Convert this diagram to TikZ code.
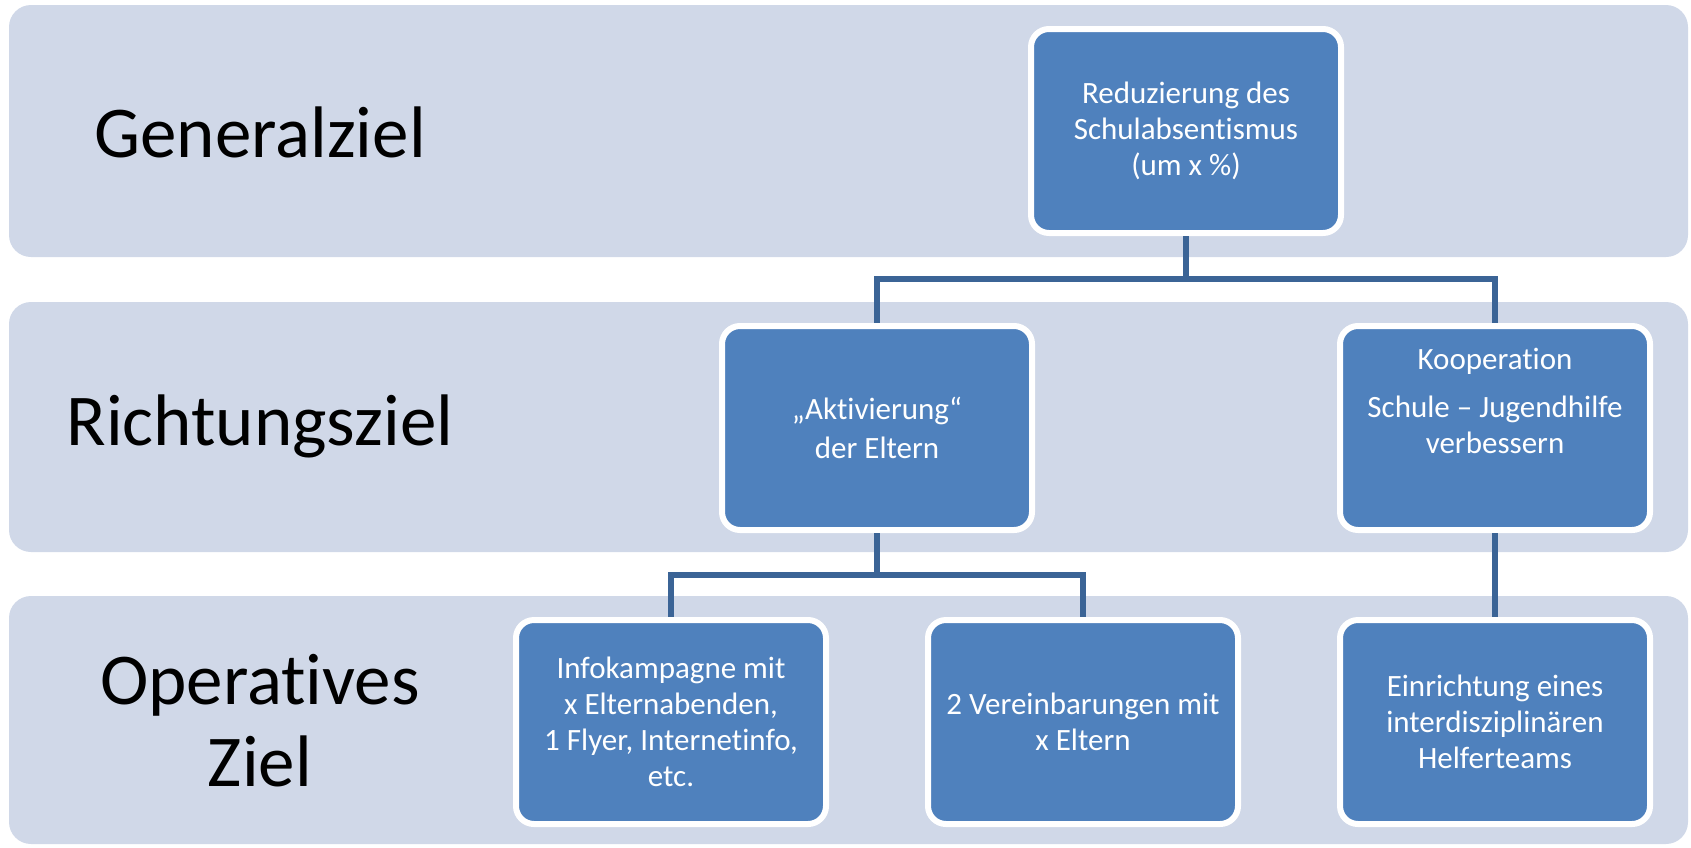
\documentclass[tikz,border=0pt]{standalone}
\usepackage{fontspec}
\setmainfont[Ligatures=NoCommon]{Carlito}
\definecolor{bandcol}{HTML}{D0D8E8}
\definecolor{boxcol}{HTML}{4F81BD}
\definecolor{linecol}{HTML}{3B6496}

\tikzstyle{band}=[fill=bandcol, rounded corners=22pt]
\tikzstyle{goal}=[draw=white, line width=6pt, fill=boxcol, rounded corners=18pt, minimum width=310pt, minimum height=204pt, align=center, text=white, font=\fontsize{31}{36}\selectfont]
\tikzstyle{level}=[align=center, font=\fontsize{73}{82}\selectfont]
\tikzstyle{conn}=[linecol, line width=6pt]

\begin{document}
\begin{tikzpicture}[x=1pt, y=-1pt]
  \useasboundingbox (0,0) rectangle (1691,847);
  \fill [band] (9,5) rectangle (1688,257);
  \fill [band] (9,302) rectangle (1688,552);
  \fill [band] (9,596) rectangle (1688,844);

  \node [level] (gen) at (260,132) {Generalziel};
  \node [level] (rich) at (260,426) {Richtungsziel};
  \node [level] (oper) at (260,721) {Operatives\\Ziel};

  \node [goal] (red) at (1186,131) {Reduzierung des\\Schulabsentismus\\(um x \%)};
  \node [goal] (akt) at (877,428) {„Aktivierung“\\[3pt]der Eltern};
  \node [goal] (koop) at (1495,428) {Kooperation\\[12pt]Schule – Jugendhilfe\\verbessern\\[18pt]\mbox{}};
  \node [goal] (info) at (671,722) {Infokampagne mit\\x Elternabenden,\\1 Flyer, Internetinfo,\\etc.};
  \node [goal] (ver) at (1083,722) {2 Vereinbarungen mit\\x Eltern};
  \node [goal] (helf) at (1495,722) {Einrichtung eines\\interdisziplinären\\Helferteams};

  \draw [conn] (red.south) -- ++(0,43) -| (akt.north);
  \draw [conn] (red.south) -- ++(0,43) -| (koop.north);
  \draw [conn] (akt.south) -- ++(0,42) -| (info.north);
  \draw [conn] (akt.south) -- ++(0,42) -| (ver.north);
  \draw [conn] (koop.south) -- (helf.north);
\end{tikzpicture}
\end{document}
